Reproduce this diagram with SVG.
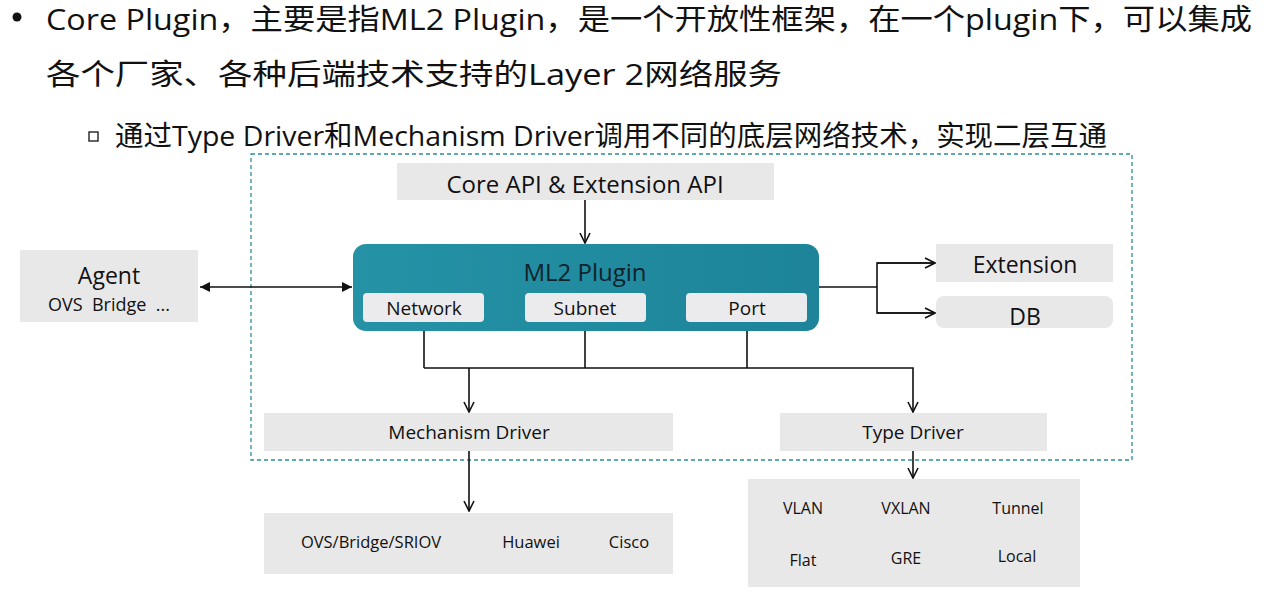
<svg xmlns="http://www.w3.org/2000/svg" width="1277" height="596" viewBox="0 0 1277 596">
<style>
text{font-family:"Open Sans","Noto Sans CJK SC",sans-serif;fill:#111;}
.h{font-size:29px;}
.c{text-anchor:middle;dominant-baseline:central;}
.box{fill:#e8e8e8;}
.sub{fill:#ebebee;}
.ln{fill:none;stroke:#111;stroke-width:1.6;}
</style>
<defs>
<marker id="oa" viewBox="0 0 12 12" refX="11" refY="6" markerWidth="12" markerHeight="12" markerUnits="userSpaceOnUse" orient="auto">
<path d="M1,1 L11,6 L1,11" fill="none" stroke="#111" stroke-width="1.6"/>
</marker>
<marker id="fa" viewBox="0 0 10 10" refX="10" refY="5" markerWidth="10" markerHeight="10" markerUnits="userSpaceOnUse" orient="auto-start-reverse">
<path d="M0,0 L10,5 L0,10 Z" fill="#111"/>
</marker>
<linearGradient id="ml2" x1="0" y1="0" x2="1" y2="0">
<stop offset="0" stop-color="#2592a6"/>
<stop offset="1" stop-color="#1d8499"/>
</linearGradient>
</defs>
<rect width="1277" height="596" fill="#fff"/>
<g id="header">
<circle cx="17" cy="17" r="4.5" fill="#111"/>
<text class="h" x="46" y="30" textLength="1206" lengthAdjust="spacingAndGlyphs">Core Plugin，主要是指ML2 Plugin，是一个开放性框架，在一个plugin下，可以集成</text>
<text class="h" x="46" y="85" textLength="736" lengthAdjust="spacingAndGlyphs">各个厂家、各种后端技术支持的Layer 2网络服务</text>
<rect x="89" y="132" width="9" height="9" fill="none" stroke="#222" stroke-width="1.4"/>
<text x="115" y="146" textLength="992" lengthAdjust="spacingAndGlyphs" style="font-size:28px">通过Type Driver和Mechanism Driver调用不同的底层网络技术，实现二层互通</text>
</g>
<rect id="boundary" x="251" y="154" width="881" height="306" fill="none" stroke="#2a8f96" stroke-width="1.3" stroke-dasharray="4,3"/>
<g id="connectors">
<line class="ln" x1="585" y1="200" x2="585" y2="243" marker-end="url(#oa)"/>
<line class="ln" x1="200" y1="287" x2="352" y2="287" marker-start="url(#fa)" marker-end="url(#fa)"/>
<polyline class="ln" points="819,287 877,287"/>
<polyline class="ln" points="935,263 877,263 877,313 935,313"/>
<line class="ln" x1="877" y1="263" x2="935" y2="263" marker-end="url(#oa)"/>
<line class="ln" x1="877" y1="313" x2="935" y2="313" marker-end="url(#oa)"/>
<line class="ln" x1="424" y1="322" x2="424" y2="368"/>
<line class="ln" x1="585" y1="322" x2="585" y2="368"/>
<line class="ln" x1="747" y1="322" x2="747" y2="368"/>
<polyline class="ln" points="424,368 913,368 913,412" marker-end="url(#oa)"/>
<line class="ln" x1="469" y1="368" x2="469" y2="412" marker-end="url(#oa)"/>
<line class="ln" x1="469" y1="451" x2="469" y2="511" marker-end="url(#oa)"/>
<line class="ln" x1="913" y1="451" x2="913" y2="478" marker-end="url(#oa)"/>
</g>
<g id="core-api">
<rect class="box" x="397" y="163" width="377" height="37"/>
<text class="c" x="585" y="183" style="font-size:24px">Core API &amp; Extension API</text>
</g>
<g id="ml2-plugin">
<rect x="353" y="244" width="466" height="87" rx="13" fill="url(#ml2)"/>
<text class="c" x="585" y="271" style="font-size:24px;fill:#10222a">ML2 Plugin</text>
</g>
<g id="network">
<rect class="sub" x="363" y="293" width="121" height="29" rx="4"/>
<text class="c" x="424" y="308" style="font-size:19px">Network</text>
</g>
<g id="subnet">
<rect class="sub" x="525" y="293" width="121" height="29" rx="4"/>
<text class="c" x="585" y="308" style="font-size:19px">Subnet</text>
</g>
<g id="port">
<rect class="sub" x="686" y="293" width="121" height="29" rx="4"/>
<text class="c" x="747" y="308" style="font-size:19px">Port</text>
</g>
<g id="agent">
<rect class="box" x="20" y="250" width="178" height="72"/>
<text class="c" x="109" y="275" style="font-size:23px">Agent</text>
<text class="c" x="109" y="304" style="font-size:18px" xml:space="preserve">OVS  Bridge  ...</text>
</g>
<g id="extension">
<rect class="box" x="936" y="244" width="177" height="38"/>
<text class="c" x="1025" y="264" style="font-size:23px">Extension</text>
</g>
<g id="db">
<rect class="box" x="936" y="296" width="177" height="32" rx="8"/>
<text class="c" x="1025" y="316" style="font-size:23px">DB</text>
</g>
<g id="mechanism-driver">
<rect class="box" x="264" y="413" width="409" height="38"/>
<text class="c" x="469" y="432" style="font-size:19px">Mechanism Driver</text>
</g>
<g id="type-driver">
<rect class="box" x="780" y="413" width="267" height="38"/>
<text class="c" x="913" y="432" style="font-size:19px">Type Driver</text>
</g>
<g id="mech-impls">
<rect class="box" x="264" y="513" width="409" height="61"/>
<text class="c" x="371" y="541" style="font-size:16.5px">OVS/Bridge/SRIOV</text>
<text class="c" x="531" y="541" style="font-size:16.5px">Huawei</text>
<text class="c" x="629" y="541" style="font-size:16.5px">Cisco</text>
</g>
<g id="type-impls">
<rect class="box" x="748" y="479" width="332" height="108"/>
<text class="c" x="803" y="508" style="font-size:16px">VLAN</text>
<text class="c" x="906" y="508" style="font-size:16px">VXLAN</text>
<text class="c" x="1018" y="508" style="font-size:16px">Tunnel</text>
<text class="c" x="803" y="560" style="font-size:16px">Flat</text>
<text class="c" x="906" y="558" style="font-size:16px">GRE</text>
<text class="c" x="1017" y="556" style="font-size:16px">Local</text>
</g>
</svg>
